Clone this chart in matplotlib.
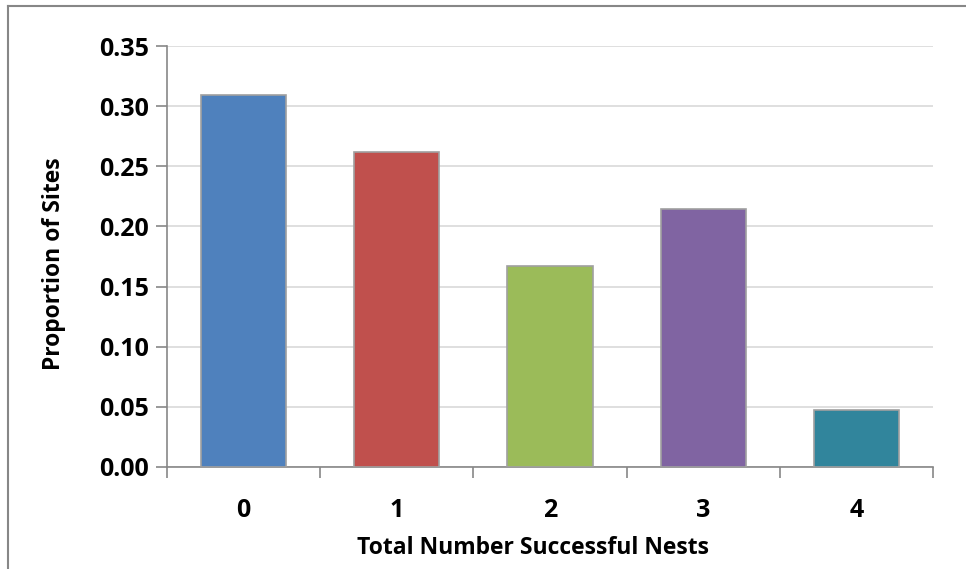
import matplotlib.pyplot as plt

categories = ["0", "1", "2", "3", "4"]
proportions = [0.3095, 0.2619, 0.1667, 0.2143, 0.0476]
colors = ["#4F81BD", "#C0504D", "#9BBB59", "#8064A2", "#31859C"]
yticks = [0.00, 0.05, 0.10, 0.15, 0.20, 0.25, 0.30, 0.35]

plt.rcParams["font.family"] = ["Open Sans", "DejaVu Sans"]

W, H = 966, 569
fig = plt.figure(figsize=(W / 100, H / 100), dpi=100)
# chart frame (open on the right and bottom)
fig.add_artist(plt.Line2D([8 / W, 8 / W], [0, 1 - 6 / H], transform=fig.transFigure,
                          color="#878787", lw=1.5))
fig.add_artist(plt.Line2D([8 / W, 1], [1 - 6 / H, 1 - 6 / H], transform=fig.transFigure,
                          color="#878787", lw=1.5))

left, right = 167 / W, 933 / W
top, bottom = 1 - 46 / H, 1 - 467 / H
ax = fig.add_axes([left, bottom, right - left, top - bottom])

x = list(range(len(categories)))
ax.bar(x, proportions, width=0.556, color=colors, edgecolor="#A0A0A0", linewidth=1.2, zorder=3)

ax.set_xlim(-0.5, len(categories) - 0.5)
ax.set_ylim(0, 0.35)
ax.set_yticks(yticks)
ax.set_yticklabels([f"{v:.2f}" for v in yticks], fontsize=18, fontweight="bold")
ax.set_xticks(x)
ax.set_xticklabels(categories, fontsize=18, fontweight="bold")
ax.tick_params(axis="x", length=0, pad=22)
ax.tick_params(axis="y", length=8, width=1.2, color="#878787", pad=5)

# category boundary ticks on the x axis
ax.set_xticks([i - 0.5 for i in range(len(categories) + 1)], minor=True)
ax.tick_params(axis="x", which="minor", length=8, width=1.2, color="#878787")

ax.yaxis.grid(True, color="#D9D9D9", lw=1.2, zorder=0)
for side in ["top", "right"]:
    ax.spines[side].set_visible(False)
for side in ["left", "bottom"]:
    ax.spines[side].set_color("#878787")
    ax.spines[side].set_linewidth(1.2)

fig.text(533 / W, 1 - 548 / H, "Total Number Successful Nests", fontsize=16.5,
         fontweight="bold", ha="center", va="center")
fig.text(54 / W, 1 - 264 / H, "Proportion of Sites", fontsize=16.5,
         fontweight="bold", ha="center", va="center", rotation=90)

fig.savefig("out.png", dpi=100)
